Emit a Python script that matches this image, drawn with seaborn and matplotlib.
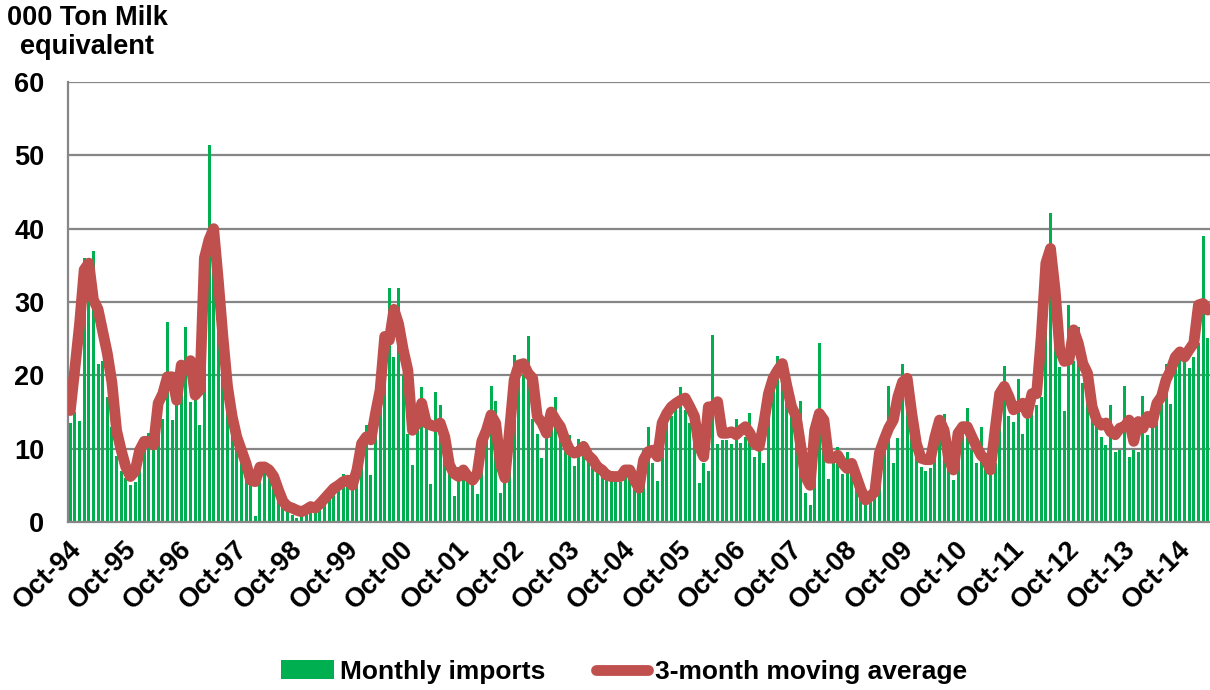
import numpy as np
import pandas as pd
import seaborn as sns
import matplotlib.pyplot as plt
from matplotlib.patches import Patch
from matplotlib.lines import Line2D

# monthly imports, Oct-94 .. Apr-15 (000 t milk equivalent)
imports = [
    13.5, 15, 13.8, 36, 35, 37, 21.5, 22, 17, 13, 9, 7,
    6, 5, 5.5, 9, 11, 12.1, 10.5, 16, 14, 27.3, 13.9, 17,
    20, 26.6, 16.3, 22, 13.2, 24, 51.4, 36, 30, 20, 16, 13,
    11, 9, 7, 6, 0.8, 8, 7.5, 6.5, 5, 3, 2, 1.5,
    1, 0.5, 1.5, 2, 2.2, 1.8, 2.5, 3, 4.6, 5, 5.5, 6.5,
    6, 5.5, 7, 9.4, 13.2, 6.4, 13, 17, 25, 31.9, 22.5, 31.9,
    20, 12, 7.8, 13, 18.4, 14, 5.2, 17.7, 16, 11, 6.6, 3.6,
    7.5, 6.2, 5.5, 5.3, 3.8, 8, 12, 18.5, 16.5, 3.9, 8, 14,
    22.8, 21, 20, 25.3, 14, 12, 8.7, 12, 15, 17, 13, 12,
    11.9, 7.7, 11.3, 11, 10, 9, 8, 7.5, 7, 7, 6.5, 5.5,
    7, 7.8, 4.8, 5.8, 9.8, 12.9, 8, 5.6, 13.9, 15.4, 14.4, 16,
    18.4, 15.3, 13.5, 12.5, 5.3, 8, 7, 25.5, 10.6, 11.2, 11.2, 10.6,
    14, 10.8, 11.6, 14.9, 8.8, 9.8, 8, 17, 20, 22.7, 21, 18,
    15, 13, 16.5, 4, 2.3, 9, 24.4, 12, 5.9, 8, 10.2, 6.6,
    9.6, 8, 6, 3.5, 3, 3.9, 4.4, 8, 12.5, 18.6, 8, 11.5,
    21.6, 20.1, 14, 11, 7.5, 6.9, 7.3, 10, 14.5, 14.7, 8, 5.7,
    10, 12, 15.6, 9.8, 8, 13, 7.5, 6.6, 8, 18, 21.3, 14.4,
    13.7, 19.5, 12, 15, 17.5, 16, 17, 30, 42.2, 28, 21.2, 15.2,
    29.6, 22, 26.6, 19, 17, 14, 13.5, 11.6, 10.5, 16, 9.5, 9.8,
    18.5, 8.8, 9.8, 9.5, 17.2, 11.9, 13.5, 14.4, 16.2, 21.5, 16.1, 21.6,
    23.5, 22.1, 21, 22.5, 24.4, 39, 25.1,
]

# 3-month moving average as drawn
moving_avg = [
    15.2, 21, 27, 34.4, 35.3, 30.3, 29, 26, 23, 19, 12.5, 9.8,
    7.5, 6.2, 6.9, 9.8, 11, 11, 10.5, 16.2, 17.5, 19.8, 19.8, 16.6,
    21.4, 20.7, 22, 17.3, 18, 36, 38.5, 40, 33, 25.3, 18.5, 14.4,
    11.6, 9.8, 8, 5.7, 5.5, 7.5, 7.5, 7.1, 6.2, 4.4, 2.8, 2.1,
    1.9, 1.6, 1.4, 1.7, 2.1, 1.9, 2.5, 3.2, 3.9, 4.6, 5, 5.5,
    5.7, 5, 7.1, 10.7, 11.6, 11.2, 14.8, 18, 25.3, 24.8, 29, 27,
    23.5, 20.7, 12.5, 13.5, 16.2, 13.5, 13.2, 13, 13.5, 11.6, 7.8, 6.6,
    6.2, 7.1, 6.2, 5.7, 6.6, 11, 12.5, 14.6, 13.5, 8, 6, 12.5,
    19.4, 21.4, 21.6, 20.3, 19.6, 14.4, 13.5, 12.1, 15, 13.9, 13, 11.2,
    9.8, 9.4, 9.6, 10.3, 9.1, 8.5, 7.5, 7.1, 6.4, 6.2, 6.2, 6.2,
    7.1, 7.1, 5.7, 4.6, 8.5, 9.6, 9.8, 8.9, 13.5, 14.8, 15.7, 16.2,
    16.6, 16.9, 15.7, 14.4, 10.3, 8.9, 15.7, 15.7, 16.4, 12.1, 12.1, 12.3,
    11.9, 12.5, 13, 12.1, 10.7, 10.3, 13.5, 17.5, 19.6, 20.7, 21.6, 18.5,
    15.7, 14.4, 10.3, 6.2, 5, 12.5, 14.8, 13.9, 8.7, 8.7, 9.1, 8,
    7.3, 8, 6.2, 4.4, 3, 3.5, 4.1, 9.4, 11.2, 12.8, 13.9, 17.1,
    19.1, 19.6, 14.8, 10.7, 8.7, 8.5, 8.5, 11.6, 13.9, 12.5, 8.5, 7.1,
    12.1, 13, 13, 11.6, 10.3, 9.1, 8.5, 7.1, 12.5, 17.5, 18.5, 17.1,
    15.3, 15.7, 16.2, 14.8, 17.5, 17.5, 25.3, 35.3, 37.3, 31.6, 23.5, 21.9,
    22.1, 26.2, 24.4, 21.6, 20.3, 15.7, 13.9, 13.2, 13.5, 12.3, 11.9, 12.8,
    13, 13.9, 11, 13.7, 12.8, 14.4, 13.5, 16.2, 17.1, 19.4, 20.7, 22.5,
    23.2, 22.5, 23.5, 24.4, 29.6, 29.8, 28.9,
]

tick_labels = ['Oct-%02d' % (y % 100) for y in range(1994, 2015)]

green = '#00B050'
red = '#C0504D'
grey = '#868686'

sns.set_style('white')
plt.rcParams['font.family'] = ['Liberation Sans', 'DejaVu Sans']
plt.rcParams['font.weight'] = 'bold'
plt.rcParams['text.color'] = 'black'

df = pd.DataFrame({'month': np.arange(len(imports)), 'imports': imports, 'avg': moving_avg})

fig = plt.figure(figsize=(12.1, 6.9), dpi=100)
ax = fig.add_axes([68 / 1210, 1 - 522 / 690, 1 - 68 / 1210, 440 / 690])

sns.barplot(data=df, x='month', y='imports', color=green, saturation=1,
            width=0.65, linewidth=0, ax=ax, zorder=2)
sns.lineplot(data=df, x='month', y='avg', color=red, linewidth=7.8, ax=ax,
             zorder=3, solid_capstyle='round', solid_joinstyle='round')

ax.set_xlim(-0.5, len(imports) - 0.5)
ax.set_ylim(0, 60)
ax.set_yticks(range(0, 61, 10))
ax.set_xticks([12 * k - 0.5 for k in range(len(tick_labels))])
ax.set_xticklabels(tick_labels, rotation=45, ha='right', rotation_mode='anchor',
                   fontsize=19.5, fontweight='bold')
ax.tick_params(axis='y', labelsize=19.5, length=6, width=1.5, color=grey,
               labelcolor='black', pad=11)
ax.tick_params(axis='x', length=6, width=1.5, color=grey, labelcolor='black', pad=4)
ax.set_xlabel('')
ax.set_ylabel('')
ax.yaxis.grid(True, color=grey, linewidth=1.6, zorder=0)
ax.set_axisbelow(True)
for s in ['top', 'right']:
    ax.spines[s].set_visible(False)
for s in ['left', 'bottom']:
    ax.spines[s].set_color(grey)
    ax.spines[s].set_linewidth(1.6)

fig.text(87 / 1210, 1 - 5 / 690, '000 Ton Milk\nequivalent', ha='center', va='top',
         multialignment='center', fontsize=19.5, fontweight='bold', linespacing=1.15,
         color='black')

handles = [Patch(facecolor=green, edgecolor='none', label='Monthly imports'),
           Line2D([0], [0], color=red, linewidth=7.8, solid_capstyle='round',
                  label='3-month moving average')]
fig.legend(handles=handles, loc='center', bbox_to_anchor=(624 / 1210, 1 - 672 / 690),
           ncol=2, frameon=False, handlelength=2.0, handleheight=0.75,
           handletextpad=0.25, columnspacing=1.9, labelcolor='black',
           prop={'weight': 'bold', 'size': 19})

plt.savefig('out.png', dpi=100)
